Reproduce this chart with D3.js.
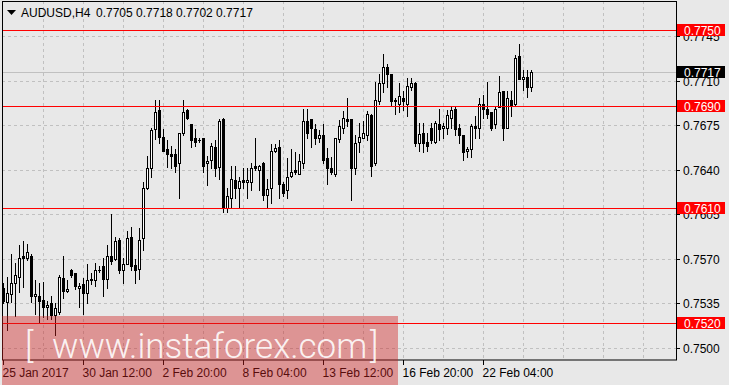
<!DOCTYPE html>
<html>
<head>
<meta charset="utf-8">
<script src="https://cdn.jsdelivr.net/npm/d3@7"></script>
<style>
  html, body { margin: 0; padding: 0; background: #e8e8e8; }
  svg { display: block; font-family: "Liberation Sans", Arial, sans-serif; }
</style>
</head>
<body>
<div id="chart"></div>
<script>
// AUDUSD H4 candles
var opens = [0.7547,0.7536,0.7542,0.7551,0.7556,0.7572,0.7571,0.7572,0.7541,0.7541,
  0.7538,0.7532,0.7535,0.7526,0.7528,0.7555,0.7545,0.7561,0.7559,0.7547,
  0.7550,0.7543,0.7553,0.7553,0.7561,0.7564,0.7554,0.7572,0.7570,0.7585,
  0.7561,0.7566,0.7587,0.7565,0.7562,0.7586,0.7626,0.7641,0.7672,0.7687,
  0.7666,0.7656,0.7652,0.7652,0.7645,0.7669,0.7687,0.7676,0.7665,0.7663,
  0.7665,0.7645,0.7648,0.7658,0.7642,0.7680,0.7610,0.7618,0.7632,0.7626,
  0.7632,0.7630,0.7630,0.7643,0.7640,0.7645,0.7620,0.7626,0.7655,0.7658,
  0.7629,0.7624,0.7635,0.7640,0.7637,0.7645,0.7678,0.7680,0.7672,0.7665,
  0.7667,0.7649,0.7641,0.7637,0.7664,0.7673,0.7680,0.7680,0.7641,0.7662,
  0.7665,0.7667,0.7683,0.7645,0.7694,0.7708,0.7721,0.7715,0.7694,0.7692,
  0.7696,0.7692,0.7705,0.7708,0.7661,0.7669,0.7662,0.7673,0.7662,0.7676,
  0.7673,0.7673,0.7681,0.7688,0.7673,0.7667,0.7655,0.7656,0.7674,0.7673,
  0.7692,0.7688,0.7685,0.7676,0.7689,0.7702,0.7673,0.7695,0.7692,0.7729,
  0.7711,0.7713,0.7705];
var highs = [0.7551,0.7556,0.7574,0.7567,0.7581,0.7584,0.7582,0.7574,0.7553,0.7551,
  0.7552,0.7537,0.7541,0.7535,0.7557,0.7572,0.7553,0.7562,0.7559,0.7551,
  0.7555,0.7566,0.7559,0.7567,0.7564,0.7571,0.7581,0.7605,0.7587,0.7586,
  0.7571,0.7592,0.7595,0.7570,0.7594,0.7630,0.7651,0.7673,0.7695,0.7695,
  0.7672,0.7663,0.7659,0.7656,0.7669,0.7695,0.7688,0.7676,0.7672,0.7665,
  0.7665,0.7651,0.7661,0.7663,0.7680,0.7681,0.7626,0.7643,0.7643,0.7634,
  0.7641,0.7641,0.7645,0.7665,0.7644,0.7646,0.7633,0.7660,0.7660,0.7663,
  0.7630,0.7649,0.7656,0.7654,0.7652,0.7688,0.7688,0.7680,0.7676,0.7671,
  0.7676,0.7657,0.7650,0.7665,0.7679,0.7686,0.7696,0.7680,0.7667,0.7677,
  0.7678,0.7686,0.7684,0.7709,0.7715,0.7731,0.7723,0.7715,0.7696,0.7708,
  0.7702,0.7712,0.7712,0.7709,0.7677,0.7677,0.7669,0.7677,0.7678,0.7688,
  0.7677,0.7687,0.7689,0.7689,0.7676,0.7667,0.7658,0.7676,0.7682,0.7696,
  0.7699,0.7709,0.7685,0.7690,0.7714,0.7702,0.7702,0.7702,0.7730,0.7739,
  0.7718,0.7718,0.7718];
var lows = [0.7535,0.7514,0.7536,0.7525,0.7544,0.7548,0.7569,0.7536,0.7527,0.7520,
  0.7524,0.7523,0.7523,0.7510,0.7527,0.7539,0.7544,0.7556,0.7546,0.7532,
  0.7527,0.7535,0.7550,0.7549,0.7560,0.7541,0.7547,0.7566,0.7569,0.7559,
  0.7551,0.7566,0.7561,0.7551,0.7554,0.7577,0.7625,0.7634,0.7664,0.7661,
  0.7655,0.7642,0.7641,0.7638,0.7618,0.7667,0.7680,0.7658,0.7659,0.7662,
  0.7638,0.7628,0.7641,0.7635,0.7633,0.7607,0.7607,0.7610,0.7618,0.7610,
  0.7626,0.7618,0.7624,0.7640,0.7624,0.7616,0.7611,0.7614,0.7654,0.7618,
  0.7619,0.7618,0.7634,0.7637,0.7637,0.7641,0.7665,0.7658,0.7660,0.7662,
  0.7645,0.7629,0.7637,0.7635,0.7662,0.7669,0.7674,0.7616,0.7637,0.7654,
  0.7665,0.7663,0.7635,0.7644,0.7692,0.7701,0.7705,0.7690,0.7684,0.7685,
  0.7687,0.7682,0.7703,0.7659,0.7655,0.7654,0.7655,0.7661,0.7661,0.7663,
  0.7665,0.7668,0.7673,0.7667,0.7661,0.7648,0.7650,0.7650,0.7665,0.7665,
  0.7681,0.7681,0.7671,0.7673,0.7689,0.7663,0.7673,0.7682,0.7690,0.7711,
  0.7703,0.7697,0.7702];
var closes = [0.7537,0.7543,0.7551,0.7557,0.7571,0.7571,0.7575,0.7541,0.7542,0.7537,
  0.7532,0.7534,0.7526,0.7531,0.7556,0.7545,0.7546,0.7557,0.7549,0.7549,
  0.7543,0.7553,0.7554,0.7561,0.7561,0.7554,0.7572,0.7568,0.7584,0.7561,
  0.7566,0.7586,0.7564,0.7561,0.7585,0.7626,0.7641,0.7671,0.7685,0.7666,
  0.7655,0.7652,0.7651,0.7643,0.7669,0.7685,0.7681,0.7663,0.7662,0.7663,
  0.7643,0.7647,0.7659,0.7641,0.7678,0.7610,0.7619,0.7633,0.7626,0.7631,
  0.7630,0.7632,0.7641,0.7641,0.7643,0.7620,0.7625,0.7655,0.7657,0.7629,
  0.7622,0.7634,0.7638,0.7638,0.7647,0.7678,0.7669,0.7673,0.7665,0.7667,
  0.7648,0.7641,0.7638,0.7665,0.7674,0.7681,0.7678,0.7641,0.7661,0.7666,
  0.7669,0.7684,0.7643,0.7695,0.7708,0.7721,0.7715,0.7694,0.7695,0.7698,
  0.7694,0.7706,0.7708,0.7661,0.7668,0.7661,0.7659,0.7663,0.7677,0.7672,
  0.7674,0.7683,0.7687,0.7672,0.7667,0.7654,0.7656,0.7674,0.7673,0.7692,
  0.7688,0.7684,0.7673,0.7688,0.7701,0.7673,0.7696,0.7691,0.7728,0.7711,
  0.7713,0.7705,0.7717];

var timeLabels = ["25 Jan 2017", "30 Jan 12:00", "2 Feb 20:00", "8 Feb 04:00",
  "13 Feb 12:00", "16 Feb 20:00", "22 Feb 04:00"];
var timeLabelBars = [0, 20, 40, 60, 80, 100, 120];
var priceTicks = [0.7500, 0.7535, 0.7570, 0.7605, 0.7640, 0.7675, 0.7710, 0.7745];
var levels = [0.7750, 0.7690, 0.7610, 0.7520];
var lastPrice = 0.7717;
var symbol = "AUDUSD,H4";
var lastOHLC = ["0.7705", "0.7718", "0.7702", "0.7717"];

var svgWidth = 729;
var svgHeight = 385;
var plot = {left: 2, top: 1, right: 676, bottom: 360};

var svg = d3.select("#chart")
  .append("svg")
  .attr("width", svgWidth)
  .attr("height", svgHeight);

svg.append("rect")
  .attr("width", svgWidth)
  .attr("height", svgHeight)
  .attr("fill", "#e8e8e8");

// bar index -> x (4px per bar), price -> y
var x = d3.scaleLinear().domain([0, 100]).range([3.33, 403.33]);
var y = d3.scaleLinear().domain([0.7520, 0.7750]).range([322.5, 29.7]);

var px = function(i) { return Math.round(x(i)); };
var py = function(v) { return Math.round(y(v)); };

svg.append("clipPath").attr("id", "plotClip")
  .append("rect")
  .attr("x", plot.left).attr("y", plot.top)
  .attr("width", plot.right - plot.left).attr("height", plot.bottom - plot.top);

var chartGroup = svg.append("g").attr("clip-path", "url(#plotClip)");

// grid
chartGroup.selectAll("line.hgrid")
  .data(priceTicks)
  .enter()
  .append("line")
  .attr("x1", plot.left).attr("x2", plot.right)
  .attr("y1", d => py(d) + 0.5).attr("y2", d => py(d) + 0.5)
  .attr("stroke", "#c0c0c0")
  .attr("stroke-dasharray", "3,3");

chartGroup.selectAll("line.vgrid")
  .data(d3.range(10, 170, 10))
  .enter()
  .append("line")
  .attr("x1", d => px(d) + 0.5).attr("x2", d => px(d) + 0.5)
  .attr("y1", plot.top).attr("y2", plot.bottom)
  .attr("stroke", "#c0c0c0")
  .attr("stroke-dasharray", "3,3");

// bid line
chartGroup.append("line")
  .attr("x1", plot.left).attr("x2", plot.right)
  .attr("y1", py(lastPrice) + 0.5).attr("y2", py(lastPrice) + 0.5)
  .attr("stroke", "#c0c0c0");

// candles
var bars = d3.range(opens.length);

chartGroup.selectAll("line.wick")
  .data(bars)
  .enter()
  .append("line")
  .attr("x1", i => px(i) + 0.5).attr("x2", i => px(i) + 0.5)
  .attr("y1", i => py(highs[i]))
  .attr("y2", i => py(lows[i]) + 1)
  .attr("stroke", "#000");

bars.forEach(function(i) {
  var top = py(Math.max(opens[i], closes[i])) + 0.5;
  var bot = py(Math.min(opens[i], closes[i])) + 0.5;
  var up = closes[i] >= opens[i];
  if (bot - top < 1) {
    chartGroup.append("line")
      .attr("x1", px(i) - 1).attr("x2", px(i) + 2)
      .attr("y1", top).attr("y2", top)
      .attr("stroke", "#000");
  } else {
    chartGroup.append("rect")
      .attr("x", px(i) - 0.5)
      .attr("y", top)
      .attr("width", 2)
      .attr("height", bot - top)
      .attr("fill", up ? "#fff" : "#000")
      .attr("stroke", "#000");
  }
});

// horizontal levels
chartGroup.selectAll("line.level")
  .data(levels)
  .enter()
  .append("line")
  .attr("x1", plot.left).attr("x2", plot.right)
  .attr("y1", d => py(d) + 0.5).attr("y2", d => py(d) + 0.5)
  .attr("stroke", "#ff0000");

// frame
svg.append("rect")
  .attr("x", plot.left + 0.5).attr("y", plot.top + 0.5)
  .attr("width", plot.right - plot.left).attr("height", plot.bottom - plot.top - 0.5)
  .attr("fill", "none")
  .attr("stroke", "#000");

// price axis
svg.selectAll("line.ptick")
  .data(priceTicks)
  .enter()
  .append("line")
  .attr("x1", plot.right + 0.5).attr("x2", plot.right + 4)
  .attr("y1", d => py(d) + 0.5).attr("y2", d => py(d) + 0.5)
  .attr("stroke", "#000");

svg.selectAll("text.plabel")
  .data(priceTicks)
  .enter()
  .append("text")
  .attr("x", 683)
  .attr("y", d => py(d) + 5)
  .attr("font-size", 12)
  .attr("fill", "#000")
  .text(d => d.toFixed(4));

// time axis
svg.selectAll("line.ttick")
  .data(timeLabelBars)
  .enter()
  .append("line")
  .attr("x1", i => px(i) + 0.5).attr("x2", i => px(i) + 0.5)
  .attr("y1", plot.bottom).attr("y2", plot.bottom + 5)
  .attr("stroke", "#000");

svg.selectAll("text.tlabel")
  .data(timeLabelBars)
  .enter()
  .append("text")
  .attr("x", i => px(i) - 0.5)
  .attr("y", 377)
  .attr("font-size", 12)
  .attr("fill", "#000")
  .text((i, k) => timeLabels[k]);

// price tags on the right
var tags = levels.map(v => ({v: v, bg: "#ff0000"}))
  .concat([{v: lastPrice, bg: "#000"}]);

var tagGroup = svg.selectAll("g.tag")
  .data(tags)
  .enter()
  .append("g");

tagGroup.append("rect")
  .attr("x", 677)
  .attr("y", d => py(d.v) - 6)
  .attr("width", 48)
  .attr("height", 12)
  .attr("fill", d => d.bg);

tagGroup.append("text")
  .attr("x", 684)
  .attr("y", d => py(d.v) + 5)
  .attr("font-size", 12)
  .attr("fill", "#fff")
  .text(d => d.v.toFixed(4));

// header
svg.append("path")
  .attr("d", "M7,10 L16,10 L11.5,15 Z")
  .attr("fill", "#000");

svg.append("text")
  .attr("x", 21).attr("y", 17)
  .attr("font-size", 12)
  .attr("fill", "#000")
  .text(symbol);

svg.append("text")
  .attr("x", 96).attr("y", 17)
  .attr("font-size", 12)
  .attr("fill", "#000")
  .text(lastOHLC.join(" "));

// watermark
svg.append("rect")
  .attr("x", 2).attr("y", 316)
  .attr("width", 396).attr("height", 69)
  .attr("fill", "rgba(205,30,30,0.42)");

var wm = svg.append("g")
  .attr("fill", "#fff")
  .attr("fill-opacity", 0.9)
  .attr("font-family", "Roboto, 'Liberation Sans', sans-serif")
  .attr("font-weight", 300)
  .attr("font-size", 35);

wm.append("text").attr("x", 25).attr("y", 358).text("[");
wm.append("text").attr("x", 52).attr("y", 358).text("www.instaforex.com");
wm.append("text").attr("x", 370).attr("y", 358).text("]");
</script>
</body>
</html>
